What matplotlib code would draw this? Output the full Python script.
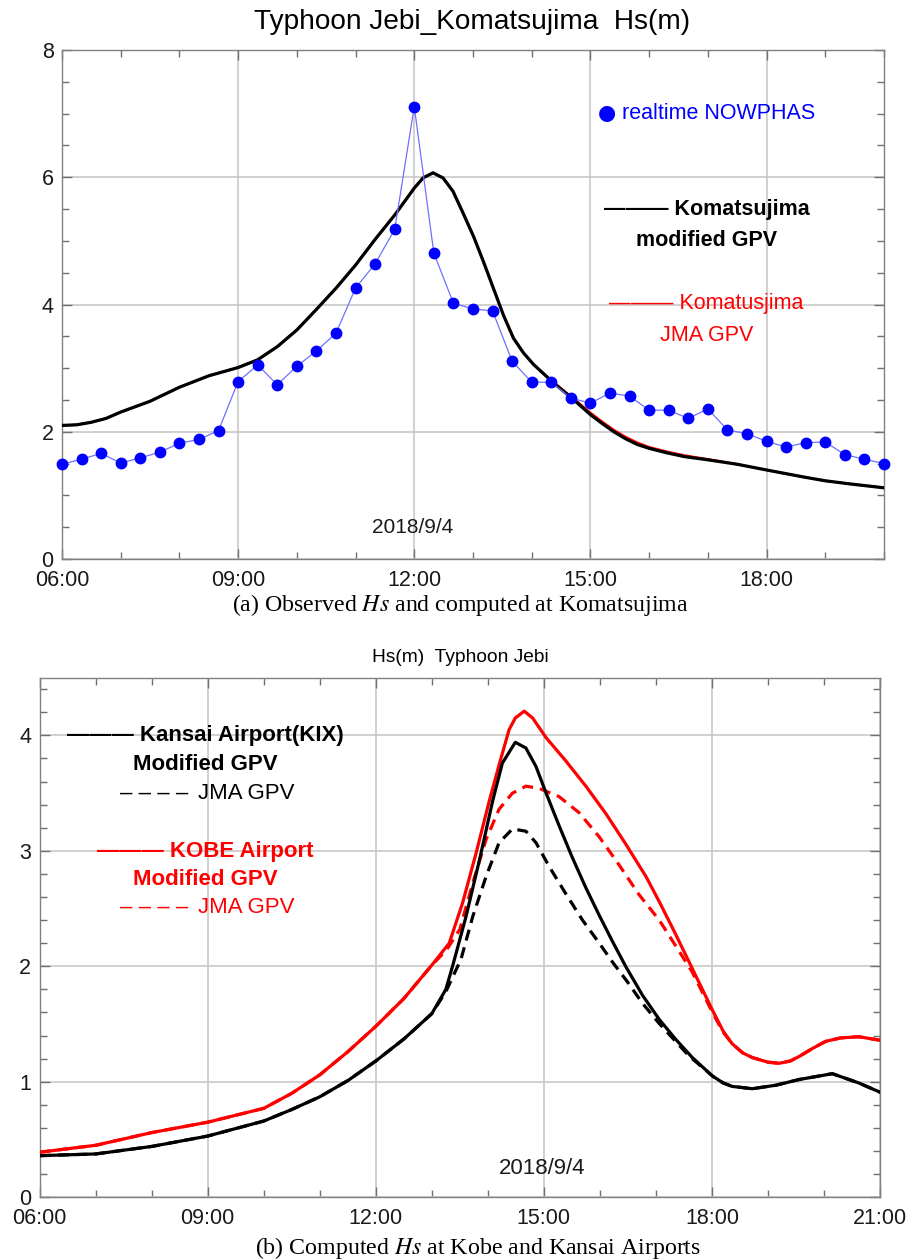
import numpy as np
import matplotlib.pyplot as plt
from matplotlib.ticker import MultipleLocator, FuncFormatter

plt.rcParams['font.family'] = ['Liberation Sans', 'DejaVu Sans']
plt.rcParams['mathtext.fontset'] = 'stix'

# -----------------------------------------------------------
# (a) Komatsujima: observed (NOWPHAS, every 20 min) and computed Hs
# -----------------------------------------------------------
obs_times = ["06:00", "06:20", "06:40", "07:00", "07:20", "07:40", "08:00", "08:20", "08:40",
             "09:00", "09:20", "09:40", "10:00", "10:20", "10:40", "11:00", "11:20", "11:40",
             "12:00", "12:20", "12:40", "13:00", "13:20", "13:40", "14:00", "14:20", "14:40",
             "15:00", "15:20", "15:40", "16:00", "16:20", "16:40", "17:00", "17:20", "17:40",
             "18:00", "18:20", "18:40", "19:00", "19:20", "19:40", "20:00"]
obs_hs = [1.49, 1.57, 1.66, 1.51, 1.59, 1.68, 1.82, 1.88, 2.02,
          2.79, 3.05, 2.74, 3.03, 3.27, 3.55, 4.26, 4.64, 5.18,
          7.11, 4.81, 4.02, 3.93, 3.90, 3.11, 2.78, 2.78, 2.53,
          2.45, 2.61, 2.56, 2.34, 2.34, 2.21, 2.36, 2.03, 1.97,
          1.85, 1.76, 1.83, 1.84, 1.64, 1.57, 1.50]

komatsu_t = [6.0, 6.25, 6.5, 6.75, 7.0, 7.5, 8.0, 8.5, 9.0, 9.33, 9.67, 10.0, 10.33, 10.67,
             11.0, 11.33, 11.67, 12.0, 12.15, 12.32, 12.49, 12.66, 12.83, 13.01, 13.18, 13.35,
             13.52, 13.69, 13.86, 14.03, 14.37, 14.72, 15.0, 15.2, 15.4, 15.6, 15.8, 16.0,
             16.3, 16.6, 17.0, 17.5, 18.0, 18.63, 19.0, 19.43, 20.0]
komatsu_mod = [2.10, 2.11, 2.15, 2.21, 2.31, 2.48, 2.70, 2.88, 3.01, 3.13, 3.34, 3.60, 3.92, 4.26,
               4.62, 5.02, 5.41, 5.83, 5.99, 6.07, 5.99, 5.78, 5.44, 5.07, 4.67, 4.25,
               3.83, 3.47, 3.24, 3.06, 2.77, 2.50, 2.27, 2.13, 2.00, 1.89, 1.80, 1.74,
               1.67, 1.61, 1.56, 1.49, 1.40, 1.29, 1.23, 1.18, 1.12]
komatsu_jma = [2.10, 2.11, 2.15, 2.21, 2.31, 2.48, 2.70, 2.88, 3.01, 3.13, 3.34, 3.60, 3.92, 4.26,
               4.62, 5.02, 5.41, 5.83, 5.99, 6.07, 5.99, 5.78, 5.44, 5.07, 4.67, 4.25,
               3.83, 3.47, 3.24, 3.06, 2.78, 2.52, 2.30, 2.16, 2.03, 1.92, 1.83, 1.76,
               1.69, 1.63, 1.57, 1.49, 1.40, 1.29, 1.23, 1.18, 1.12]

# -----------------------------------------------------------
# (b) Kansai (KIX) and Kobe airports, computed Hs
# -----------------------------------------------------------
kix_t = [6.0, 7.0, 8.0, 9.0, 10.0, 10.5, 11.0, 11.5, 12.0, 12.5, 13.0, 13.25, 13.37, 13.61,
         13.85, 14.09, 14.26, 14.49, 14.68, 14.86, 15.04, 15.27, 15.51, 15.75, 15.99, 16.22,
         16.46, 16.76, 17.06, 17.35, 17.65, 18.01, 18.2, 18.36, 18.72, 19.14, 19.56, 20.15,
         20.62, 21.0]
kix_mod = [0.36, 0.375, 0.44, 0.53, 0.66, 0.76, 0.87, 1.01, 1.18, 1.37, 1.59, 1.80, 2.00, 2.43,
           2.92, 3.44, 3.76, 3.94, 3.89, 3.73, 3.50, 3.22, 2.94, 2.68, 2.44, 2.22,
           2.00, 1.75, 1.54, 1.37, 1.21, 1.05, 0.99, 0.96, 0.94, 0.97, 1.02, 1.07,
           0.99, 0.91]

kix_jma_t = [6.0, 7.0, 8.0, 9.0, 10.0, 10.5, 11.0, 11.5, 12.0, 12.5, 13.0, 13.25, 13.52, 13.73,
             13.97, 14.2, 14.44, 14.68, 14.86, 15.1, 15.39, 15.69, 15.99, 16.22, 16.5, 16.76,
             17.05, 17.35, 17.6, 17.89, 18.01, 18.2, 18.36, 18.72, 19.14, 19.56, 20.15, 20.62, 21.0]
kix_jma = [0.36, 0.375, 0.44, 0.53, 0.66, 0.76, 0.87, 1.01, 1.18, 1.37, 1.59, 1.78, 2.06, 2.43,
           2.78, 3.07, 3.19, 3.17, 3.07, 2.86, 2.63, 2.40, 2.20, 2.04, 1.86, 1.68,
           1.51, 1.35, 1.22, 1.10, 1.05, 0.99, 0.96, 0.94, 0.97, 1.02, 1.07, 0.99, 0.91]

kobe_t = [6.0, 7.0, 8.0, 9.0, 10.0, 10.5, 11.0, 11.5, 12.0, 12.5, 13.0, 13.31, 13.55, 13.79,
          14.03, 14.21, 14.38, 14.49, 14.65, 14.80, 15.04, 15.39, 15.75, 16.11, 16.46, 16.82,
          17.06, 17.35, 17.65, 18.01, 18.2, 18.36, 18.55, 18.72, 19.0, 19.2, 19.4, 19.56,
          19.8, 20.03, 20.3, 20.62, 21.0]
kobe_mod = [0.39, 0.45, 0.56, 0.65, 0.77, 0.90, 1.06, 1.26, 1.48, 1.72, 2.01, 2.20, 2.55, 2.98,
            3.44, 3.76, 4.05, 4.15, 4.21, 4.15, 3.98, 3.78, 3.56, 3.32, 3.06, 2.78,
            2.56, 2.28, 1.98, 1.62, 1.44, 1.33, 1.25, 1.21, 1.17, 1.16, 1.18, 1.22,
            1.29, 1.35, 1.38, 1.39, 1.36]

kobe_jma_t = [6.0, 7.0, 8.0, 9.0, 10.0, 10.5, 11.0, 11.5, 12.0, 12.5, 13.0, 13.26, 13.5, 13.73,
              13.97, 14.2, 14.44, 14.68, 14.92, 15.27, 15.63, 15.99, 16.34, 16.70, 17.06, 17.35,
              17.65, 18.01, 18.2, 18.36, 18.55, 18.72, 19.0, 19.2, 19.4, 19.56, 19.8, 20.03,
              20.3, 20.62, 21.0]
kobe_jma = [0.39, 0.45, 0.56, 0.65, 0.77, 0.90, 1.06, 1.26, 1.48, 1.72, 2.01, 2.14, 2.32, 2.72,
            3.10, 3.36, 3.50, 3.56, 3.54, 3.47, 3.33, 3.12, 2.88, 2.62, 2.40, 2.18,
            1.95, 1.60, 1.43, 1.33, 1.25, 1.21, 1.17, 1.16, 1.18, 1.22, 1.29, 1.35,
            1.38, 1.39, 1.36]


def to_hours(labels):
    return [int(s[:2]) + int(s[3:]) / 60 for s in labels]


def style(ax, xmax, ymax, ymajor, yminor):
    ax.set_xlim(6, xmax)
    ax.set_ylim(0, ymax)
    ax.xaxis.set_major_locator(MultipleLocator(3))
    ax.xaxis.set_minor_locator(MultipleLocator(1))
    ax.yaxis.set_major_locator(MultipleLocator(ymajor))
    ax.yaxis.set_minor_locator(MultipleLocator(yminor))
    ax.xaxis.set_major_formatter(FuncFormatter(lambda v, p: f"{int(round(v)):02d}:00"))
    ax.yaxis.set_major_formatter(FuncFormatter(lambda v, p: f"{v:g}"))
    ax.grid(which='major', color='#c4c4c4', lw=1.1)
    ax.set_axisbelow(True)
    ax.tick_params(which='both', direction='in', top=True, right=True,
                   colors='#707070', labelcolor='#1a1a1a', labelsize=15.5)
    ax.tick_params(which='major', length=7, width=1.0)
    ax.tick_params(which='minor', length=5, width=1.0)
    ax.tick_params(axis='y', pad=6)
    ax.tick_params(axis='x', pad=8)
    for s in ax.spines.values():
        s.set_color('#808080')
        s.set_linewidth(1.0)


fig = plt.figure(figsize=(9.1, 12.6), dpi=100)
ax1 = fig.add_axes([0.0681, 0.5563, 0.9033, 0.4040])
ax2 = fig.add_axes([0.0436, 0.0498, 0.9234, 0.4124])

# ---------------- panel (a) ----------------
style(ax1, 20, 8, 2, 0.5)
ax1.plot(komatsu_t, komatsu_jma, color='red', lw=1.6, zorder=3)
ax1.plot(komatsu_t, komatsu_mod, color='black', lw=2.3, zorder=4)
ax1.plot(to_hours(obs_times), obs_hs, color='#7070ff', lw=0.9, marker='o',
         markersize=7.5, markerfacecolor='blue', markeredgecolor='blue', zorder=5, clip_on=False)

ax1.text(15.29, 7.01, "●", color='blue', fontsize=15, ha='center', va='center',
         family=['DejaVu Sans'])
ax1.text(15.53, 7.01, "realtime NOWPHAS", color='blue', fontsize=15.5, va='center')
ax1.text(15.24, 5.49, "——— Komatsujima", color='black', fontsize=15.5,
         fontweight='bold', va='center')
ax1.text(15.78, 5.0, "modified GPV", color='black', fontsize=15.5, fontweight='bold', va='center')
ax1.text(15.32, 4.01, "——— Komatusjima", color='red', fontsize=15.5, va='center')
ax1.text(16.19, 3.51, "JMA GPV", color='red', fontsize=15.5, va='center')
ax1.text(11.28, 0.49, "2018/9/4", color='#1a1a1a', fontsize=15, va='center')

fig.text(0.519, 0.9825, "Typhoon Jebi_Komatsujima  Hs(m)", fontsize=20.2, ha='center', va='center')
fig.text(0.5055, 1 - 605 / 1260, r"(a) Observed $\mathit{Hs}$ and computed at Komatsujima",
         family='Liberation Serif', fontsize=17.2, ha='center', va='center')

# ---------------- panel (b) ----------------
style(ax2, 21, 4.5, 1, 0.2)
dash = (3.5, 2.2)
ax2.plot(kobe_jma_t, kobe_jma, color='red', lw=2.3, dashes=dash, zorder=3)
ax2.plot(kix_jma_t, kix_jma, color='black', lw=2.3, dashes=dash, zorder=3)
ax2.plot(kobe_t, kobe_mod, color='red', lw=2.3, zorder=4)
ax2.plot(kix_t, kix_mod, color='black', lw=2.3, zorder=4)

ax2.text(6.49, 4.0, "——— Kansai Airport(KIX)", color='black', fontsize=16,
         fontweight='bold', va='center')
ax2.text(7.66, 3.75, "Modified GPV", color='black', fontsize=16, fontweight='bold', va='center')
ax2.text(7.43, 3.50, "– – – –", color='black', fontsize=16, va='center')
ax2.text(8.82, 3.50, "JMA GPV", color='black', fontsize=16, va='center')
ax2.text(7.02, 2.99, "——— KOBE Airport", color='red', fontsize=16,
         fontweight='bold', va='center')
ax2.text(7.66, 2.75, "Modified GPV", color='red', fontsize=16, fontweight='bold', va='center')
ax2.text(7.43, 2.51, "– – – –", color='red', fontsize=16, va='center')
ax2.text(8.82, 2.51, "JMA GPV", color='red', fontsize=16, va='center')
ax2.text(14.19, 0.25, "2018/9/4", color='#1a1a1a', fontsize=16, va='center')

fig.text(0.5055, 1 - 657 / 1260, "Hs(m)  Typhoon Jebi", fontsize=13.8, ha='center', va='center')
fig.text(0.5258, 1 - 1248 / 1260, r"(b) Computed $\mathit{Hs}$ at Kobe and Kansai Airports",
         family='Liberation Serif', fontsize=17.2, ha='center', va='center')

fig.savefig('out.png', dpi=100)
